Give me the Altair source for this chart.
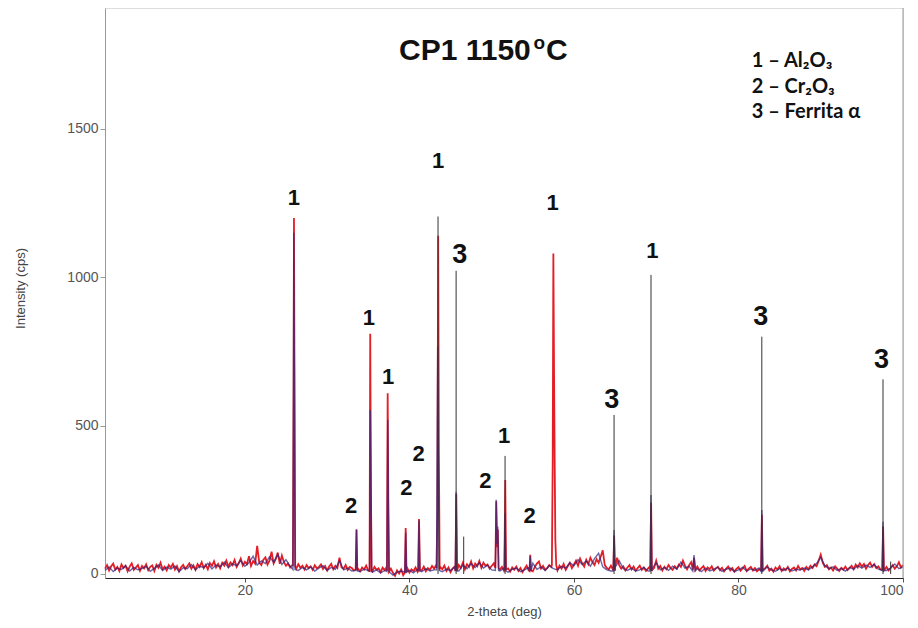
import altair as alt
import pandas as pd

# ---------------- data ----------------
# measured pattern (red) background: 2-theta 3.00 ... 100.00, every 0.25 deg
red_bg_start = 3.0
red_bg_step = 0.25
red_bg = [
    18, 30, 12, 26, 35, 15, 24, 10, 32, 20, 28, 9, 25, 36, 14, 22, 30, 11, 27, 19,      # 3
    33, 13, 24, 29, 10, 31, 21, 38, 16, 25, 12, 30, 22, 34, 15, 27, 9, 23, 31, 17,      # 8
    26, 36, 18, 29, 14, 33, 24, 40, 20, 31, 16, 37, 27, 43, 22, 34, 19, 38, 28, 45,     # 13
    25, 39, 30, 47, 24, 36, 52, 29, 41, 33, 60, 27, 44, 35, 95, 38, 30, 48, 56, 32,     # 18
    45, 75, 36, 50, 72, 34, 62, 40, 28, 35, 22, 30, 25, 18, 33, 21, 28, 15, 30, 20,     # 23
    26, 14, 29, 19, 24, 32, 17, 27, 12, 25, 34, 16, 28, 20, 55, 22, 18, 30, 14, 24,     # 28
    20, 12, 26, 18, 9, 22, 15, 28, 11, 20, 8, 24, 14, 19, 6, 21, 13, 25, 10, 18,        # 33
    4, -6, 12, 2, 15, -4, 8, 20, 5, 16, 10, 22, 7, 18, 12, 25, 9, 20, 14, 27,           # 38
    18, 30, 12, 24, 16, 28, 10, 22, 6, 18, 25, 14, 30, 20, 38, 16, 33, 24, 42, 19,      # 43
    35, 26, 44, 21, 38, 28, 32, 18, 27, 36, 22, 30, 15, 24, 11, 26, 19, 8, 22, 14,      # 48
    25, 10, 20, 6, 18, 28, 12, 22, 9, 24, 35, 42, 18, 27, 14, 20, 30, 24, 16, 26,       # 53
    12, 28, 18, 34, 14, 26, 38, 20, 32, 45, 28, 52, 36, 25, 48, 33, 55, 40, 30, 50,     # 58
    38, 58, 80, 30, 20, 16, 28, 14, 24, 55, 30, 18, 26, 12, 22, 30, 15, 25, 11, 20,     # 63
    28, 14, 22, 10, 18, 26, 13, 21, 45, 18, 27, 12, 24, 16, 30, 20, 14, 26, 18, 32,     # 68
    24, 45, 28, 16, 30, 40, 22, 14, 25, 12, 20, 27, 10, 22, 16, 26, 11, 19, 24, 13,     # 73
    21, 9, 18, 25, 12, 20, 8, 17, 23, 11, 19, 27, 10, 18, 24, 12, 20, 9, 16, 22,        # 78
    14, 20, 28, 11, 18, 8, 22, 15, 26, 10, 19, 13, 24, 9, 17, 22, 12, 27, 15, 20,       # 83
    10, 24, 16, 28, 20, 32, 26, 45, 65, 38, 24, 30, 16, 22, 12, 26, 18, 10, 21, 15,     # 88
    25, 13, 20, 28, 16, 32, 22, 36, 25, 34, 18, 30, 38, 24, 33, 20, 26, 16, 28, 14,     # 93
    24, 12, 20, 30, 18, 26, 40, 22, 30,                                                 # 98-100
]

# measured peaks: (2-theta, cps) points
red_peaks = [
    [(25.84, 30), (25.93, 650), (25.97, 1200), (26.03, 700), (26.12, 25)],
    [(33.47, 15), (33.57, 150), (33.67, 12)],
    [(35.16, 10), (35.24, 810), (35.32, 310), (35.40, 10)],
    [(37.27, 10), (37.36, 609), (37.44, 250), (37.52, 8)],
    [(39.45, 5), (39.55, 155), (39.65, 6)],
    [(41.06, 10), (41.17, 185), (41.28, 12)],
    [(43.30, 20), (43.40, 210), (43.50, 1140), (43.58, 420), (43.68, 15)],
    [(45.60, 10), (45.70, 270), (45.80, 12)],
    [(50.45, 20), (50.56, 245), (50.66, 90), (50.75, 150), (50.85, 20)],
    [(51.55, 15), (51.65, 317), (51.75, 15)],
    [(54.60, 10), (54.69, 65), (54.78, 12)],
    [(57.32, 30), (57.42, 380), (57.50, 1080), (57.58, 690), (57.66, 380), (57.74, 115), (57.85, 30)],
    [(64.79, 15), (64.89, 130), (64.99, 12)],
    [(69.28, 12), (69.38, 240), (69.48, 10)],
    [(74.45, 15), (74.60, 55), (74.75, 14)],
    [(82.75, 12), (82.85, 200), (82.95, 10)],
    [(97.48, 14), (97.58, 160), (97.68, 12)],
]

# calculated pattern (dark blue) background: 2-theta 3.0 ... 100.0, every 0.5 deg
blue_bg_start = 3.0
blue_bg_step = 0.5
blue_bg = [
    12, 24, 8, 20, 15, 28, 10, 22, 14, 18,      # 3
    26, 9, 19, 30, 12, 23, 16, 27, 8, 21,       # 8
    18, 32, 14, 26, 22, 36, 17, 30, 24, 40,     # 13
    21, 34, 28, 45, 26, 38, 60, 30, 44, 35,     # 18
    58, 40, 66, 32, 48, 26, 20, 12, 22, 14,     # 23
    24, 10, 20, 28, 12, 22, 16, 45, 14, 20,     # 28
    10, 18, 8, 16, 12, 6, 14, 4, 12, 6,         # 33
    -4, 6, 10, -2, 12, 4, 16, 8, 18, 10,        # 38
    14, 22, 8, 16, 12, 24, 10, 30, 18, 35,      # 43
    22, 38, 20, 30, 14, 26, 10, 20, 6, 16,      # 48
    20, 8, 14, 22, 36, 16, 24, 12, 28, 18,      # 53
    14, 26, 20, 38, 28, 48, 32, 44, 26, 52,     # 58
    70, 24, 14, 10, 22, 45, 18, 12, 20, 10,     # 63
    14, 22, 10, 18, 38, 14, 22, 12, 26, 16,     # 68
    40, 20, 26, 12, 18, 8, 20, 10, 16, 22,      # 73
    9, 16, 20, 8, 14, 22, 10, 17, 12, 20,       # 78
    10, 24, 14, 9, 18, 12, 20, 10, 16, 13,      # 83
    20, 14, 24, 36, 55, 28, 18, 24, 12, 18,     # 88
    10, 22, 16, 28, 20, 30, 22, 32, 16, 26,     # 93
    12, 20, 34, 18, 24,                         # 98-100
]

blue_peaks = [
    [(25.85, 15), (25.95, 1150), (26.02, 690), (26.10, 15)],
    [(33.47, 12), (33.57, 150), (33.67, 10)],
    [(35.15, 10), (35.25, 553), (35.33, 311), (35.42, 10)],
    [(37.27, 8), (37.37, 520), (37.45, 200), (37.53, 8)],
    [(39.45, 6), (39.55, 140), (39.65, 6)],
    [(41.07, 10), (41.17, 180), (41.27, 10)],
    [(43.30, 14), (43.44, 766), (43.54, 300), (43.64, 12)],
    [(45.58, 10), (45.68, 277), (45.78, 10)],
    [(50.45, 12), (50.55, 250), (50.65, 100), (50.74, 160), (50.84, 12)],
    [(51.53, 12), (51.63, 205), (51.73, 10)],
    [(54.59, 10), (54.69, 60), (54.79, 10)],
    [(64.78, 10), (64.88, 148), (64.98, 10)],
    [(69.27, 10), (69.37, 266), (69.47, 10)],
    [(74.45, 10), (74.60, 64), (74.75, 10)],
    [(82.74, 9), (82.84, 216), (82.94, 9)],
    [(97.47, 12), (97.57, 176), (97.67, 12)],
]

# reference stick pattern
stick_pos = [43.48, 45.68, 46.60, 51.63, 64.88, 69.37, 82.84, 97.57, 98.50]
stick_int = [1205, 1022, 126, 398, 536, 1008, 800, 656, 42]

# peak labels
label_text = ["1", "1", "1", "2", "2", "2", "1", "3", "2", "1", "2", "1", "3", "1", "3", "3"]
label_x = [25.96, 35.06, 37.41, 32.92, 39.64, 41.13, 43.48, 46.11, 49.23, 51.53, 54.60, 57.40,
           64.61, 69.53, 82.70, 97.38]
label_y = [1244, 839, 640, 205, 266, 381, 1367, 1047, 289, 440, 171, 1227, 558, 1064, 839, 693]

title_parts = ["CP1 1150", "o", "C"]
legend_lines = ["1 \u2013 Al\u2082O\u2083", "2 \u2013 Cr\u2082O\u2083", "3 \u2013 Ferrita \u03b1"]

x_ticks = [20, 40, 60, 80, 100]
y_ticks = [0, 500, 1000, 1500]


# ---------------- build tables ----------------
def build_trace(start, step, bg, peaks):
    ranges = [(p[0][0], p[-1][0]) for p in peaks]
    pts = []
    for i, v in enumerate(bg):
        x = round(start + i * step, 4)
        if any(lo <= x <= hi for lo, hi in ranges):
            continue
        pts.append((x, v))
    for p in peaks:
        pts.extend(p)
    pts.sort(key=lambda t: t[0])
    return pd.DataFrame(pts, columns=["theta", "cps"])


red_df = build_trace(red_bg_start, red_bg_step, red_bg, red_peaks)
blue_df = build_trace(blue_bg_start, blue_bg_step, blue_bg, blue_peaks)
stick_df = pd.DataFrame({"theta": stick_pos, "cps": stick_int, "zero": [0] * len(stick_pos)})
lab_df = pd.DataFrame({
    "theta": label_x, "cps": label_y, "t": label_text,
    "s": [27 if t == "3" else 22 for t in label_text],
})

FONT = "Arial"

xscale = alt.Scale(domain=[3, 100], nice=False, zero=False)
yscale = alt.Scale(domain=[-13.5, 1907.7], nice=False, zero=False)

xaxis = alt.Axis(values=x_ticks, grid=False, tickSize=4, labelPadding=1, format="d",
                 labelFont=FONT, labelFontSize=14, labelColor="#555",
                 domainColor="#222", tickColor="#555",
                 title="2-theta (deg)", titleFont=FONT, titleFontSize=13,
                 titleFontWeight="normal", titleColor="#444",
                 titleBaseline="alphabetic", titleY=37)
yaxis = alt.Axis(values=y_ticks, grid=False, tickSize=5, labelPadding=2, format="d",
                 labelFont=FONT, labelFontSize=14, labelColor="#555",
                 domainColor="#999", tickColor="#999",
                 title="Intensity (cps)", titleFont=FONT, titleFontSize=13,
                 titleFontWeight="normal", titleColor="#444",
                 titleBaseline="middle", titleX=-85, titleY=280)

red = alt.Chart(red_df).mark_line(color="#e41e26", strokeWidth=1.8).encode(
    x=alt.X("theta:Q", scale=xscale, axis=xaxis),
    y=alt.Y("cps:Q", scale=yscale, axis=yaxis),
    order="theta:Q",
)

blue = alt.Chart(blue_df).mark_line(color="#2a2580", strokeWidth=1.4, opacity=0.7).encode(
    x="theta:Q", y="cps:Q", order="theta:Q",
)

sticks = alt.Chart(stick_df).mark_rule(color="#333", strokeWidth=1).encode(
    x="theta:Q", y="zero:Q", y2="cps:Q",
)

labels = alt.Chart(lab_df).mark_text(font=FONT, fontWeight="bold", color="#111",
                                     baseline="alphabetic", align="center").encode(
    x="theta:Q", y="cps:Q", text="t:N", size=alt.Size("s:Q", scale=None, legend=None),
)

frame_right = alt.Chart(pd.DataFrame({"v": [0]})).mark_rule(color="#999", strokeWidth=1).encode(
    x=alt.datum(100), y=alt.value(0), y2=alt.value(570),
)

title_layers = []
for txt, xp, yp, fs in zip(title_parts, [294, 428.5, 441], [52, 40.5, 52], [30, 19, 30]):
    title_layers.append(
        alt.Chart(pd.DataFrame({"t": [txt]})).mark_text(
            font=FONT, fontWeight="bold", fontSize=fs, color="#111",
            align="left", baseline="alphabetic",
        ).encode(text="t:N", x=alt.value(xp), y=alt.value(yp))
    )

legend_layers = []
for txt, yp in zip(legend_lines, [58.7, 85.3, 110.3]):
    legend_layers.append(
        alt.Chart(pd.DataFrame({"t": [txt]})).mark_text(
            font="Lato", fontWeight="bold", fontSize=20, color="#111",
            align="left", baseline="alphabetic",
        ).encode(text="t:N", x=alt.value(646.7), y=alt.value(yp))
    )

chart = alt.layer(red, blue, sticks, labels, frame_right, *title_layers, *legend_layers).properties(
    width=798, height=570,
    autosize=alt.AutoSizeParams(type="none"),
    padding={"left": 97, "top": 0, "right": 7, "bottom": 42},
).configure_view(stroke=None).configure(background="white")

chart.save("out.html", embed_options={"renderer": "svg", "actions": False})
